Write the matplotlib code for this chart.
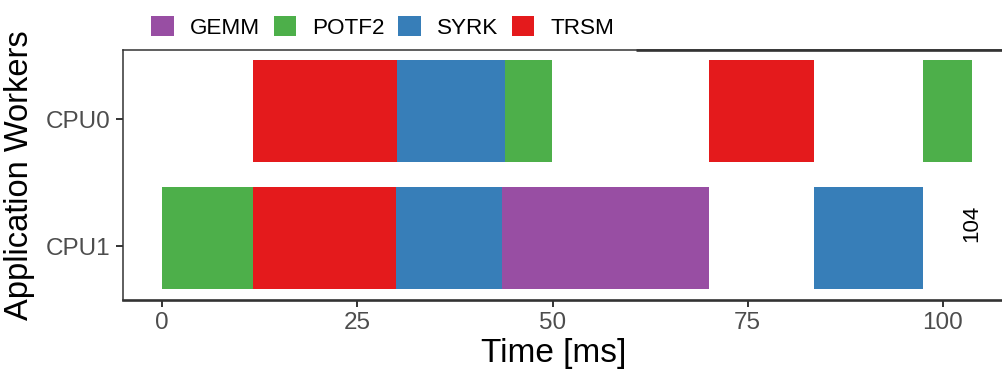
import matplotlib.pyplot as plt
from matplotlib.patches import Patch

plt.rcParams['font.family'] = ['Liberation Sans', 'DejaVu Sans']

# task traces (ms)
workers = ["CPU1", "CPU0"]
cpu0_tasks = ["TRSM", "SYRK", "POTF2", "TRSM", "POTF2"]
cpu0_start = [11.6, 30.1, 43.9, 70.1, 97.5]
cpu0_end = [30.1, 43.9, 49.9, 83.5, 103.75]
cpu1_tasks = ["POTF2", "TRSM", "SYRK", "GEMM", "SYRK"]
cpu1_start = [0.0, 11.6, 29.9, 43.5, 83.5]
cpu1_end = [11.6, 29.9, 43.5, 70.1, 97.5]
makespan = 103.75

kinds = ["GEMM", "POTF2", "SYRK", "TRSM"]
colors = {"GEMM": "#984EA3", "POTF2": "#4DAF4A", "SYRK": "#377EB8", "TRSM": "#E41A1C"}

fig = plt.figure(figsize=(10.03, 3.70), dpi=100)
ax = fig.add_axes([0.1226, 0.1905, 0.8774, 0.6745])

rows = {"CPU0": (cpu0_tasks, cpu0_start, cpu0_end),
        "CPU1": (cpu1_tasks, cpu1_start, cpu1_end)}
for yi, w in enumerate(workers, start=1):
    tasks, st, en = rows[w]
    for t, s, e in zip(tasks, st, en):
        ax.barh(yi - 0.34, e - s, left=s, height=0.805, align="edge",
                color=colors[t], linewidth=0)

ax.text(makespan, 1.18, f"{makespan:.0f}", rotation=90, ha="center",
        va="center", fontsize=16, color="black")

ax.set_xlim(-5.04, 107.7)
ax.set_ylim(0.578, 2.547)
ax.set_xticks([0, 25, 50, 75, 100])
ax.set_yticks([1, 2])
ax.set_yticklabels(workers)
ax.tick_params(axis="both", length=5, width=1.4, color="#333333",
               labelsize=17.5, labelcolor="#4D4D4D", pad=4)

ax.spines["right"].set_visible(False)
for s in ["left", "top"]:
    ax.spines[s].set_color("#333333")
    ax.spines[s].set_linewidth(1.1)
ax.spines["bottom"].set_color("#333333")
ax.spines["bottom"].set_linewidth(1.9)
ax.plot([60.7, 107.7], [2.547, 2.547], color="#333333", linewidth=1.9,
        clip_on=False, solid_capstyle="butt")

ax.set_xlabel("Time [ms]", fontsize=24, color="black")
ax.xaxis.set_label_coords(0.489, -0.155)
ax.xaxis.label.set_va("top")
ax.set_ylabel("Application Workers", fontsize=23.5, color="black")
ax.yaxis.set_label_coords(-0.1, 0.5)

handles = [Patch(facecolor=colors[k], edgecolor="none", label=k) for k in kinds]
fig.legend(handles=handles, loc="lower left", bbox_to_anchor=(0.151, 0.895),
           ncol=4, frameon=False, fontsize=16.2, handlelength=1.0,
           handleheight=1.0, handletextpad=0.7, columnspacing=0.62,
           borderpad=0, borderaxespad=0)

fig.savefig("out.png", dpi=100)
